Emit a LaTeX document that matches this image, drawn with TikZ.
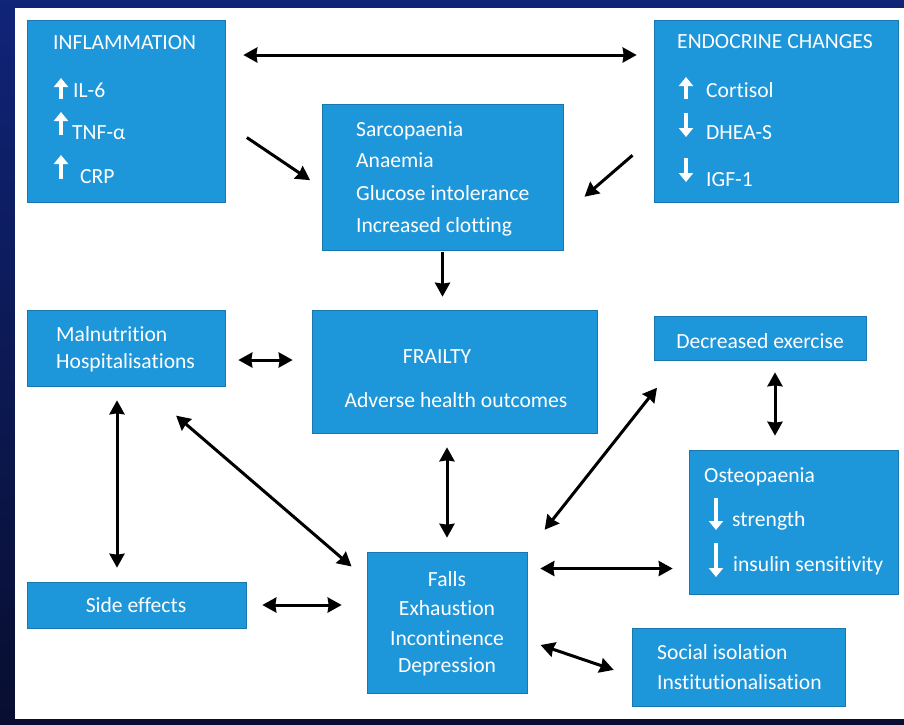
\documentclass[tikz,border=0pt]{standalone}
\usepackage{fontspec}
\setmainfont{Carlito}[Ligatures={NoCommon}]
\usetikzlibrary{arrows.meta}
\definecolor{boxblue}{RGB}{30,150,218}
\definecolor{navytop}{RGB}{16,36,120}
\definecolor{navybot}{RGB}{8,14,48}
\tikzset{
  box/.style = {fill=boxblue, draw=boxblue!80!black, line width=0.6pt, inner sep=0pt},
  lbl/.style = {text=white, inner sep=0pt, font=\fontsize{21.6}{24}\selectfont},
  dlink/.style = {line width=3pt, {Stealth[length=14pt,width=15pt,inset=1pt]}-{Stealth[length=14pt,width=15pt,inset=1pt]}},
  link/.style = {line width=3pt, -{Stealth[length=14pt,width=15pt,inset=1pt]}},
  warr/.style = {white, line width=3.5pt, -{Triangle[length=9pt,width=14pt]}}
}
\begin{document}
\begin{tikzpicture}[x=1pt, y=-1pt]
\useasboundingbox (0,0) rectangle (904,724);
\shade[top color=navytop, bottom color=navybot] (0,0) rectangle (904,724);
\fill[white] (15,8) rectangle (904,719);

% boxes
\node[box, minimum width=198pt, minimum height=182pt] (infl) at (126,111) {};
\node[box, minimum width=244pt, minimum height=182pt] (endo) at (776,111) {};
\node[box, minimum width=241pt, minimum height=146pt] (sarc) at (442.5,177) {};
\node[box, minimum width=198pt, minimum height=76pt] (maln) at (126,348) {};
\node[box, minimum width=285pt, minimum height=123pt] (frail) at (454.5,371.5) {};
\node[box, minimum width=212pt, minimum height=44pt] (decex) at (760,338) {};
\node[box, minimum width=209pt, minimum height=144pt] (osteo) at (793.5,522) {};
\node[box, minimum width=160pt, minimum height=141pt] (falls) at (447,622.5) {};
\node[box, minimum width=219pt, minimum height=46pt] (side) at (136.5,605) {};
\node[box, minimum width=213pt, minimum height=78pt] (social) at (738.5,667) {};

% texts
\node[lbl, anchor=west] (inflT) at (53,43) {INFLAMMATION};
\node[lbl, anchor=west] (inflA) at (73,90) {IL-6};
\node[lbl, anchor=west] (inflB) at (72,133) {TNF-α};
\node[lbl, anchor=west] (inflC) at (80,177) {CRP};
\draw[warr] (61,99) -- (61,78);
\draw[warr] (61,135) -- (61,112);
\draw[warr] (61,179) -- (61,155);

\node[lbl, anchor=west] (endoT) at (677,42) {ENDOCRINE CHANGES};
\node[lbl, anchor=west] (endoA) at (706,90) {Cortisol};
\node[lbl, anchor=west] (endoB) at (706,133) {DHEA-S};
\node[lbl, anchor=west] (endoC) at (706,180) {IGF-1};
\draw[warr] (686,99) -- (686,77);
\draw[warr] (686,113) -- (686,137);
\draw[warr] (686,158) -- (686,182);

\node[lbl, anchor=west] (sarcT) at (356,131) {Sarcopaenia};
\node[lbl, anchor=west] (sarcB) at (356,160) {Anaemia};
\node[lbl, anchor=west] (sarcC) at (356,193) {Glucose intolerance};
\node[lbl, anchor=west] (sarcD) at (356,227) {Increased clotting};

\node[lbl, anchor=west] (malnA) at (56,334) {Malnutrition};
\node[lbl, anchor=west] (malnB) at (56,363) {Hospitalisations};

\node[lbl] (frailT) at (437,357) {FRAILTY};
\node[lbl] (frailB) at (456,400) {Adverse health outcomes};

\node[lbl] (decexT) at (760,341) {Decreased exercise};

\node[lbl, anchor=west] (osteoT) at (704,477) {Osteopaenia};
\node[lbl, anchor=west] (osteoA) at (732,521) {strength};
\node[lbl, anchor=west] (osteoB) at (733,566) {insulin sensitivity};
\draw[warr] (716,498) -- (716,530);
\draw[warr] (716,543) -- (716,577);

\node[lbl] (fallsA) at (447,579) {Falls};
\node[lbl] (fallsB) at (447,608) {Exhaustion};
\node[lbl] (fallsC) at (447,638) {Incontinence};
\node[lbl] (fallsD) at (447,667) {Depression};

\node[lbl] (sideT) at (136,605) {Side effects};

\node[lbl, anchor=west] (socialA) at (657,652) {Social isolation};
\node[lbl, anchor=west] (socialB) at (657,682) {Institutionalisation};

% connectors
\draw[dlink, shorten <=18pt, shorten >=17pt] ([yshift=56pt]infl.east) -- ([yshift=56pt]endo.west);
\draw[link, shorten <=26pt, shorten >=14pt] ([yshift=-12pt]infl.east) -- ([yshift=-11pt]sarc.west);
\draw[link, shorten <=28pt, shorten >=28pt] ([yshift=-26pt]endo.west) -- ([yshift=-38pt]sarc.east);
\draw[link, shorten <=2pt, shorten >=13pt] (sarc.south) -- (sarc.south |- frail.north);
\draw[dlink, shorten <=13pt, shorten >=19pt] ([yshift=-12pt]maln.east) -- ([yshift=-12pt]maln.east -| frail.west);
\draw[dlink, shorten <=14pt, shorten >=14pt] (falls.north |- frail.south) -- (falls.north);
\draw[dlink, shorten <=12pt, shorten >=14pt] ([xshift=15pt]decex.south) -- ([xshift=15pt]decex.south |- osteo.north);
\draw[dlink, shorten <=28pt, shorten >=35pt] (falls.north east) -- ([xshift=25pt]decex.south west);
\draw[dlink, shorten <=14pt, shorten >=14pt] ([xshift=-9pt]maln.south) -- ([xshift=-9pt]maln.south |- side.north);
\draw[dlink, shorten <=45pt, shorten >=20pt] ([xshift=16pt]maln.south) -- ([yshift=43pt]falls.west);
\draw[dlink, shorten <=16pt, shorten >=25pt] (side.east) -- (side.east -| falls.west);
\draw[dlink, shorten <=13pt, shorten >=16pt] ([yshift=54pt]falls.east) -- ([yshift=54pt]falls.east -| osteo.west);
\draw[dlink, shorten <=14pt, shorten >=19pt] ([yshift=-18pt]falls.east) -- ([yshift=-9pt]social.west);
\end{tikzpicture}
\end{document}
